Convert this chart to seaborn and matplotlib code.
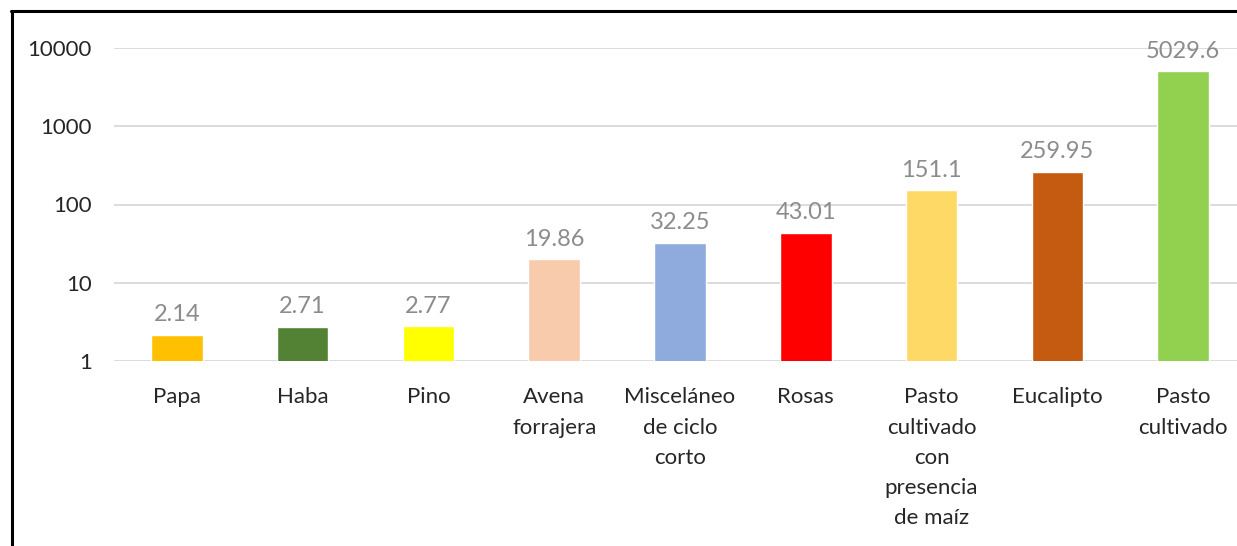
import numpy as np
import pandas as pd
import seaborn as sns
import matplotlib.pyplot as plt
from matplotlib.lines import Line2D

# Datos del grafico
cultivos = ['Papa', 'Haba', 'Pino', 'Avena\nforrajera', 'Misceláneo\nde ciclo\ncorto',
            'Rosas', 'Pasto\ncultivado\ncon\npresencia\nde maíz', 'Eucalipto', 'Pasto\ncultivado']
valores = [2.14, 2.71, 2.77, 19.86, 32.25, 43.01, 151.1, 259.95, 5029.6]
colores = ['#FFC000', '#548235', '#FFFF00', '#F8CBAD', '#8FAADC',
           '#FF0000', '#FFD966', '#C55A11', '#92D050']
ticks_y = [1, 10, 100, 1000, 10000]

df = pd.DataFrame({'cultivo': cultivos, 'valor': valores})

sns.set_theme(style='white')
plt.rcParams['font.family'] = ['Lato', 'DejaVu Sans']

fig = plt.figure(figsize=(12.37, 5.46), dpi=100)
ax = fig.add_axes([114 / 1237, 1 - 361 / 546, 1132 / 1237, 313 / 546])

sns.barplot(data=df, x='cultivo', y='valor', hue='cultivo', palette=colores,
            width=0.41, legend=False, ax=ax, saturation=1)
ax.set_yscale('log')
ax.set_ylim(1, 10000)
ax.set_xlim(-0.5, len(cultivos) - 0.5)
ax.set_yticks(ticks_y)
ax.set_yticklabels([str(t) for t in ticks_y])
ax.minorticks_off()
ax.yaxis.grid(True, color='#d9d9d9', linewidth=1.3)
ax.set_axisbelow(True)
for s in ax.spines.values():
    s.set_visible(False)
ax.set_xlabel('')
ax.set_ylabel('')
ax.tick_params(axis='y', length=0, pad=16, labelsize=16, labelcolor='#262626')
ax.tick_params(axis='x', length=0, pad=19, labelsize=16, labelcolor='#262626')
for lab in ax.get_xticklabels():
    lab.set_linespacing(1.64)
    lab.set_verticalalignment('top')

for cont in ax.containers:
    ax.bar_label(cont, fmt='%g', padding=7, fontsize=17, color='#8c8c8c')

# marco negro (arriba e izquierda)
fig.add_artist(Line2D([11 / 1237, 1], [1 - 11 / 546, 1 - 11 / 546], color='black', linewidth=2.2))
fig.add_artist(Line2D([12 / 1237, 12 / 1237], [0, 1 - 11 / 546], color='black', linewidth=2.2))

fig.savefig('out.png', dpi=100)
